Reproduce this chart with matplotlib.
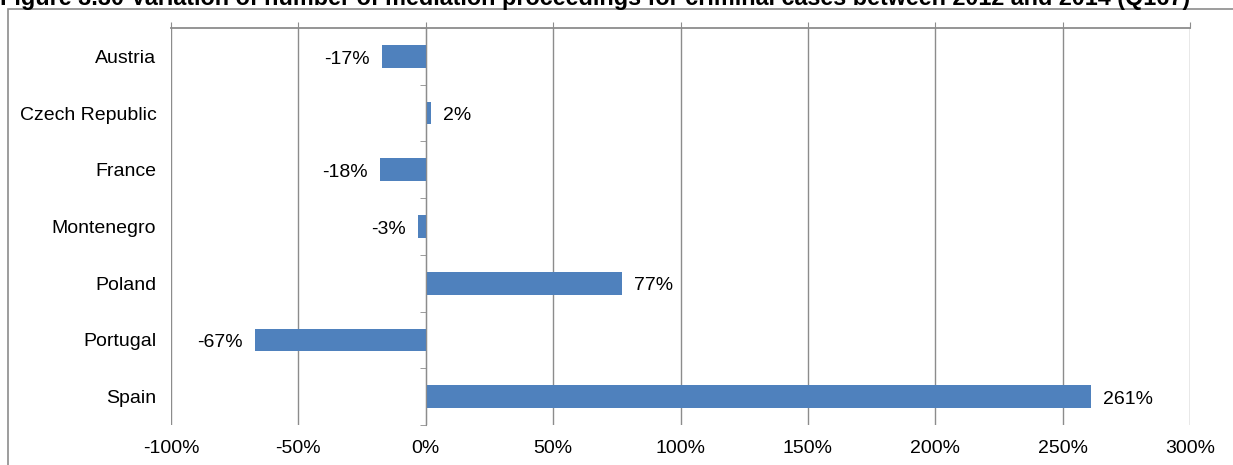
import matplotlib.pyplot as plt
import numpy as np
from matplotlib.patches import Rectangle
from matplotlib.ticker import FixedLocator, FuncFormatter

plt.rcParams['font.family'] = ['Liberation Sans', 'DejaVu Sans']

countries = ["Austria", "Czech Republic", "France", "Montenegro",
             "Poland", "Portugal", "Spain"]
variation = [-17, 2, -18, -3, 77, -67, 261]
x_ticks = [-100, -50, 0, 50, 100, 150, 200, 250, 300]

title = ("Figure 3.30 Variation of number of mediation proceedings "
         "for criminal cases between 2012 and 2014 (Q167)")

bar_col = "#4F81BD"
grid_col = "#8C8C8C"
fs = 14

fig = plt.figure(figsize=(12.33, 4.65), dpi=100)
ax = fig.add_axes([171 / 1233, 1 - 425 / 465, (1190 - 171) / 1233, (425 - 28) / 465])

y = np.arange(len(countries))
ax.barh(y, variation, height=0.4, color=bar_col, zorder=3)

# value labels beside each bar end
for yi, v in zip(y, variation):
    if v < 0:
        ax.annotate(f"{v}%", (v, yi), xytext=(-9, -2), textcoords="offset points",
                    ha="right", va="center", fontsize=fs)
    else:
        ax.annotate(f"{v}%", (v, yi), xytext=(9, -2), textcoords="offset points",
                    ha="left", va="center", fontsize=fs)

ax.set_xlim(-100, 300)
ax.set_ylim(len(countries) - 0.5, -0.5)

# x axis: line and ticks on top, labels at the bottom
ax.xaxis.set_major_locator(FixedLocator(x_ticks))
ax.xaxis.set_major_formatter(FuncFormatter(lambda v, p: f"{v:.0f}%"))
ax.tick_params(axis="x", top=True, bottom=False, labeltop=False, labelbottom=True,
               direction="out", length=4, color=grid_col, labelsize=fs, pad=7)
ax.grid(axis="x", color=grid_col, linewidth=1.0, zorder=0)

# category axis sits on the zero line
ax.spines["left"].set_position(("data", 0))
ax.spines["left"].set_color(grid_col)
ax.spines["left"].set_zorder(4)
ax.spines["top"].set_color(grid_col)
ax.spines["top"].set_linewidth(1.3)
ax.spines["right"].set_visible(False)
ax.spines["bottom"].set_visible(False)

ax.set_yticks(y)
ax.set_yticklabels(countries)
ax.set_yticks(np.arange(len(countries) + 1) - 0.5, minor=True)
ax.tick_params(axis="y", which="major", length=0, pad=194, labelsize=fs)
ax.tick_params(axis="y", which="minor", length=4, color=grid_col, direction="out")

# chart frame, running off the right and bottom edges
fig.patches.append(Rectangle((8 / 1233, -0.2), 1.2, 1.2 - 9 / 465,
                             transform=fig.transFigure, fill=False,
                             edgecolor="#8C8C8C", linewidth=1.2))

fig.text(0.0, 1 - 5 / 465, title, fontsize=16.8, fontweight="bold",
         ha="left", va="baseline")

fig.savefig("out.png", dpi=100)
